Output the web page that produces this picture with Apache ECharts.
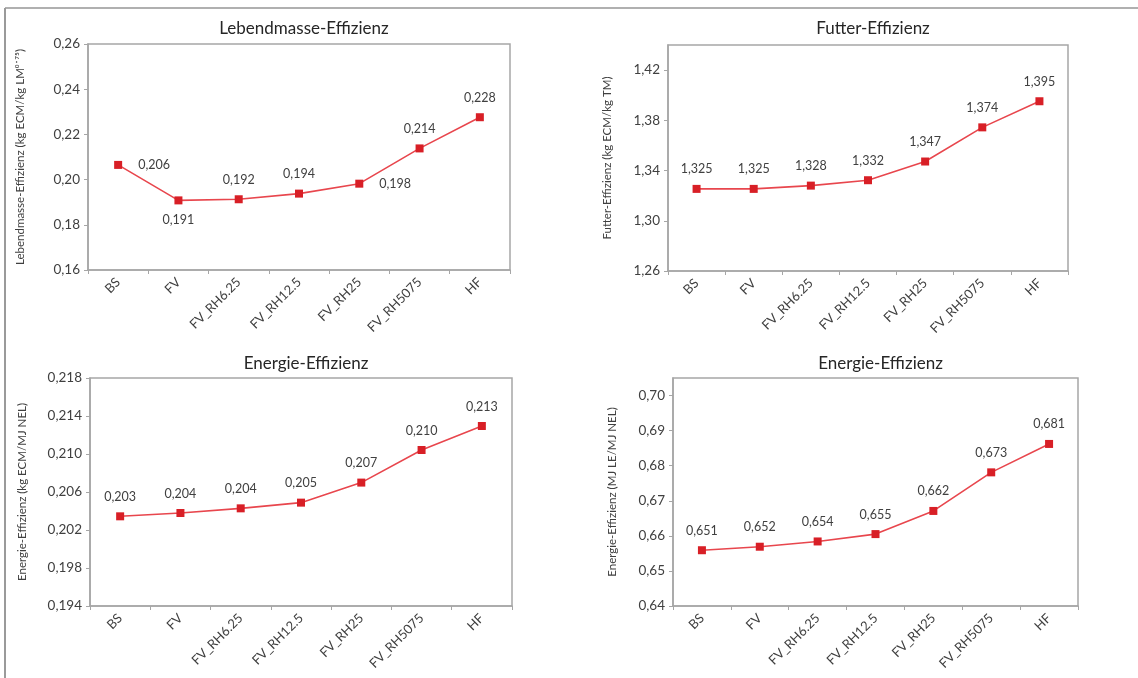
<!DOCTYPE html>
<html>
<head>
<meta charset="utf-8">
<script src="https://cdn.jsdelivr.net/npm/echarts@6/dist/echarts.min.js"></script>
<style>
html,body{margin:0;padding:0;background:#fff;}
#c{width:1138px;height:678px;}
</style>
</head>
<body>
<div id="c"></div>
<script>
// ---- data ----
const categories = ['BS', 'FV', 'FV_RH6.25', 'FV_RH12.5', 'FV_RH25', 'FV_RH5075', 'HF'];

const titles = ['Lebendmasse-Effizienz', 'Futter-Effizienz', 'Energie-Effizienz', 'Energie-Effizienz'];
const yNames = [
  'Lebendmasse-Effizienz (kg ECM/kg LM\u2070\u02D9\u2077\u2075)',
  'Futter-Effizienz (kg ECM/kg TM)',
  'Energie-Effizienz (kg ECM/MJ NEL)',
  'Energie-Effizienz (MJ LE/MJ NEL)'
];

// plotted marker positions
const lebendmasse = [0.2065, 0.1908, 0.1913, 0.1938, 0.1982, 0.2138, 0.2276];
const futter = [1.3254, 1.3254, 1.328, 1.3323, 1.3472, 1.3744, 1.3952];
const energieECM = [0.20344, 0.20379, 0.20428, 0.20488, 0.20699, 0.21042, 0.21295];
const energieLE = [0.6559, 0.6569, 0.6584, 0.6605, 0.6671, 0.6781, 0.6862];

// data label texts
const lebendmasseLabels = ['0,206', '0,191', '0,192', '0,194', '0,198', '0,214', '0,228'];
const futterLabels = ['1,325', '1,325', '1,328', '1,332', '1,347', '1,374', '1,395'];
const energieECMLabels = ['0,203', '0,204', '0,204', '0,205', '0,207', '0,210', '0,213'];
const energieLELabels = ['0,651', '0,652', '0,654', '0,655', '0,662', '0,673', '0,681'];

// label placement for first panel
const lebendmasseLabelPos = ['right', 'bottom', 'top', 'top', 'right', 'top', 'top'];

// y axis ticks
const yTicks1 = [0.16, 0.18, 0.20, 0.22, 0.24, 0.26];
const yTicks2 = [1.26, 1.30, 1.34, 1.38, 1.42];
const yTicks3 = [0.194, 0.198, 0.202, 0.206, 0.210, 0.214, 0.218];
const yTicks4 = [0.64, 0.65, 0.66, 0.67, 0.68, 0.69, 0.70];

// ---- chart ----
const FONT = 'Lato, "Open Sans", sans-serif';
const grids = [
  {left: 88, top: 44, width: 422, height: 226},
  {left: 668, top: 45, width: 400, height: 226},
  {left: 90, top: 378, width: 422, height: 228},
  {left: 673, top: 378, width: 405, height: 228}
];
const yCfg = [
  {min: 0.16, max: 0.26, interval: 0.02, dec: 2, ticks: yTicks1, gap: 62},
  {min: 1.26, max: 1.44, interval: 0.04, dec: 2, ticks: yTicks2, gap: 55},
  {min: 0.194, max: 0.218, interval: 0.004, dec: 3, ticks: yTicks3, gap: 62},
  {min: 0.64, max: 0.705, interval: 0.01, dec: 2, ticks: yTicks4, gap: 55}
];
const seriesVals = [lebendmasse, futter, energieECM, energieLE];
const seriesLabels = [lebendmasseLabels, futterLabels, energieECMLabels, energieLELabels];

const axisColor = '#a6a6a6';
const textColor = '#404040';

const option = {
  backgroundColor: '#fff',
  animation: false,
  title: titles.map((t, i) => ({
    text: t,
    left: grids[i].left + grids[i].width / 2,
    top: i < 2 ? 15 : 350,
    textAlign: 'center',
    textStyle: {fontFamily: FONT, fontSize: 17, fontWeight: 'normal', color: '#262626'}
  })),
  grid: grids.map(g => Object.assign({show: true, borderColor: axisColor, borderWidth: 1.5, backgroundColor: '#fff'}, g)),
  xAxis: grids.map((g, i) => ({
    type: 'category',
    gridIndex: i,
    data: categories,
    boundaryGap: true,
    axisLine: {lineStyle: {color: axisColor, width: 1.5}},
    axisTick: {show: true, length: 4, lineStyle: {color: axisColor}},
    axisLabel: {rotate: 45, fontFamily: FONT, fontSize: 13, color: textColor, margin: 10, interval: 0}
  })),
  yAxis: yCfg.map((c, i) => ({
    type: 'value',
    gridIndex: i,
    min: c.min, max: c.max, interval: c.interval,
    name: yNames[i],
    nameLocation: 'middle',
    nameGap: c.gap,
    nameTextStyle: {fontFamily: FONT, fontSize: 11.5, color: textColor},
    splitLine: {show: false},
    axisLine: {show: true, lineStyle: {color: axisColor, width: 1.5}},
    axisTick: {show: true, length: 4, lineStyle: {color: axisColor}},
    axisLabel: {
      fontFamily: FONT, fontSize: 13.5, color: textColor, margin: 8,
      showMaxLabel: i === 0 || i === 2,
      formatter: v => {
        const hit = c.ticks.some(t => Math.abs(t - v) < 1e-9);
        return hit ? v.toFixed(c.dec).replace('.', ',') : '';
      }
    }
  })),
  series: seriesVals.map((vals, i) => ({
    type: 'line',
    xAxisIndex: i,
    yAxisIndex: i,
    data: vals.map((v, j) => ({
      value: v,
      label: {
        show: true,
        formatter: seriesLabels[i][j],
        position: i === 0 ? lebendmasseLabelPos[j] : 'top',
        distance: i === 0 && lebendmasseLabelPos[j] === 'right' ? 16 : 9
      }
    })),
    symbol: 'rect',
    symbolSize: 8,
    itemStyle: {color: '#d81f26'},
    lineStyle: {color: '#e8464d', width: 1.6},
    label: {fontFamily: FONT, fontSize: 12.5, color: textColor}
  })),
  graphic: [
    {type: 'line', shape: {x1: 5, y1: 8, x2: 1138, y2: 8}, style: {stroke: '#b0b0b0', lineWidth: 2}},
    {type: 'line', shape: {x1: 5, y1: 8, x2: 5, y2: 678}, style: {stroke: '#9a9a9a', lineWidth: 2}}
  ]
};

const chart = echarts.init(document.getElementById('c'), null, {renderer: 'canvas'});
chart.setOption(option);
</script>
</body>
</html>
